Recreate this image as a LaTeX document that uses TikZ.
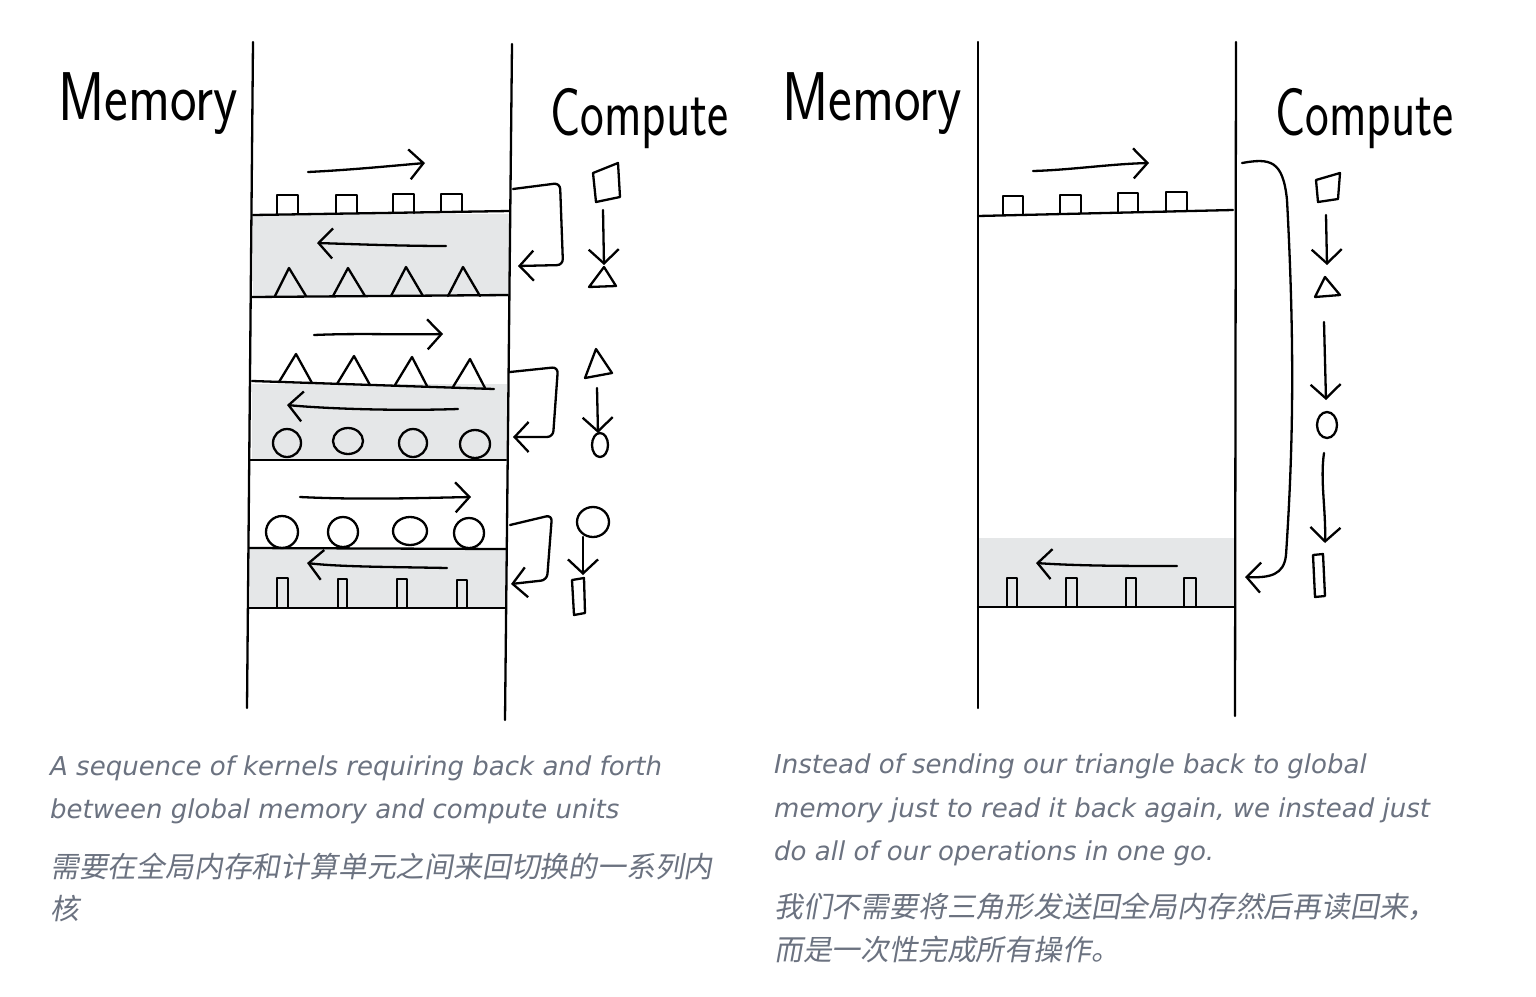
\documentclass[tikz,border=0pt]{standalone}
\usepackage{fontspec}
\usetikzlibrary{arrows.meta}
\newfontfamily\capfont{DejaVu Sans}
\newfontfamily\cjkfont[FakeSlant=0.18]{Noto Sans CJK SC}
\definecolor{capgray}{RGB}{107,114,128}
\definecolor{bandgray}{RGB}{229,231,232}
\tikzset{
  ink/.style={draw=black, line width=2.3pt, line cap=round, line join=round},
  arr/.style={ink, -{Straight Barb[length=14pt,width=30pt]}},
  hand/.style={inner sep=0pt, anchor=base west, font=\sffamily\fontsize{60}{60}\selectfont},
  captext/.style={inner sep=0pt, anchor=base west, text=capgray, font=\capfont\itshape\fontsize{26}{26}\selectfont},
  cjktext/.style={inner sep=0pt, anchor=base west, text=capgray, font=\cjkfont\fontsize{28.8}{28.8}\selectfont},
}
\begin{document}
\begin{tikzpicture}[x=1pt,y=-1pt]
\useasboundingbox (0,0) rectangle (1536,996);
\fill[white] (0,0) rectangle (1536,996);
% ---------------- left panel ----------------
\fill[bandgray] (253,214) rectangle (509,297);
\fill[bandgray] (252,384) rectangle (507,460);
\fill[bandgray] (250,548) rectangle (506,607);
\draw[ink] (253,42) -- (247,708);
\draw[ink] (512,44) -- (505,720);
\draw[ink] (253,215) -- (510,211);
\draw[ink] (252,297) -- (508,295);
\draw[ink] (252,381) -- (494,389);
\draw[ink] (250,460) -- (506,460);
\draw[ink] (249,548) -- (506,549);
\draw[ink] (249,608) -- (505,608);
% squares
\draw[ink] (277,214) -- (277,195) -- (298,195) -- (298,214);
\draw[ink] (336,214) -- (336,195) -- (357,195) -- (357,213);
\draw[ink] (393,213) -- (393,194) -- (414,194) -- (414,213);
\draw[ink] (441,212) -- (441,194) -- (462,194) -- (462,212);
% triangles row 1
\draw[ink] (275,296) -- (289,268) -- (306,296);
\draw[ink] (333,296) -- (348,268) -- (365,296);
\draw[ink] (391,296) -- (406,267) -- (423,296);
\draw[ink] (448,296) -- (463,267) -- (480,296);
% triangles row 2
\draw[ink] (279,382) -- (296,354) -- (312,383);
\draw[ink] (337,384) -- (354,356) -- (370,385);
\draw[ink] (395,385) -- (412,357) -- (427,386);
\draw[ink] (453,387) -- (470,359) -- (485,388);
% circles
\draw[ink] (287,443) ellipse [x radius=14, y radius=14];
\draw[ink] (348,441) ellipse [x radius=15, y radius=13];
\draw[ink] (413,443) ellipse [x radius=14, y radius=14];
\draw[ink] (475,444) ellipse [x radius=15, y radius=14];
\draw[ink] (282,532) ellipse [x radius=16, y radius=16];
\draw[ink] (343,532) ellipse [x radius=15, y radius=15];
\draw[ink] (410,531) ellipse [x radius=17, y radius=14];
\draw[ink] (469,533) ellipse [x radius=15, y radius=15];
% bars
\draw[ink] (277,607) -- (277,578) -- (288,578) -- (288,607);
\draw[ink] (338,607) -- (338,579) -- (347,579) -- (347,607);
\draw[ink] (397,607) -- (397,579) -- (407,579) -- (407,607);
\draw[ink] (457,607) -- (457,580) -- (467,580) -- (467,607);
% horizontal arrows
\draw[arr] (308,172) .. controls (350,170) and (390,166) .. (425,163);
\draw[arr] (446,246) .. controls (400,246) and (350,244) .. (317,243);
\draw[arr] (314,335) .. controls (360,333) and (400,335) .. (443,334);
\draw[arr] (458,409) .. controls (400,411) and (330,409) .. (287,405);
\draw[arr] (300,497) .. controls (360,500) and (420,498) .. (471,497);
\draw[arr] (447,568) .. controls (400,567) and (340,567) .. (307,563);
% hooks
\draw[arr, rounded corners=6pt] (513,189) -- (560,183) -- (563,265) -- (518,266);
\draw[arr, rounded corners=6pt] (510,372) -- (558,367) -- (553,437) -- (513,437);
\draw[arr, rounded corners=6pt] (510,525) -- (552,515) -- (547,580) -- (511,584);
% compute shapes left
\draw[ink] (593,173) -- (618,163) -- (620,197) -- (596,202) -- cycle;
\draw[arr] (603,210) -- (604,265);
\draw[ink] (604,267) -- (589,287) -- (616,286) -- cycle;
\draw[ink] (596,349) -- (585,378) -- (612,373) -- cycle;
\draw[arr] (597,388) -- (598,433);
\draw[ink] (600,445) ellipse [x radius=8, y radius=12];
\draw[ink] (593,522) ellipse [x radius=16, y radius=15];
\draw[arr] (583,537) -- (583,575);
\draw[ink] (572,580) -- (584,578) -- (585,613) -- (574,615) -- cycle;
% labels
\node[hand] (memL) at (58,120) {\scalebox{0.94}[1.15]{Memory}};
\node[hand] (cmpL) at (550,135) {\scalebox{0.84}[1.13]{Compute}};
% ---------------- right panel ----------------
\fill[bandgray] (978,538) rectangle (1235,607);
\draw[ink] (978,42) -- (978,708);
\draw[ink] (1236,42) -- (1235,716);
\draw[ink] (978,216) -- (1233,210);
\draw[ink] (978,607) -- (1235,607);
\draw[ink] (1003,215) -- (1003,196) -- (1023,196) -- (1023,214);
\draw[ink] (1060,214) -- (1060,195) -- (1081,195) -- (1081,213);
\draw[ink] (1118,213) -- (1118,193) -- (1138,193) -- (1138,212);
\draw[ink] (1166,212) -- (1166,192) -- (1187,192) -- (1187,211);
\draw[arr] (1033,171) .. controls (1070,170) and (1110,164) .. (1149,163);
\draw[arr] (1177,566) .. controls (1130,566) and (1080,566) .. (1036,563);
\draw[ink] (1007,607) -- (1007,578) -- (1017,578) -- (1017,607);
\draw[ink] (1066,607) -- (1066,578) -- (1077,578) -- (1077,607);
\draw[ink] (1126,607) -- (1126,578) -- (1136,578) -- (1136,607);
\draw[ink] (1184,607) -- (1184,578) -- (1196,578) -- (1196,607);
\draw[arr] (1242,163) .. controls (1270,158) and (1283,160) .. (1287,200)
  .. controls (1295,350) and (1293,450) .. (1286,555)
  .. controls (1284,575) and (1270,578) .. (1245,577);
\draw[ink] (1316,180) -- (1340,173) -- (1338,199) -- (1318,202) -- cycle;
\draw[arr] (1326,215) -- (1327,265);
\draw[ink] (1325,277) -- (1315,297) -- (1340,295) -- cycle;
\draw[arr] (1324,322) -- (1326,400);
\draw[ink] (1327,425) ellipse [x radius=10, y radius=13];
\draw[arr] (1324,453) .. controls (1320,480) and (1326,510) .. (1325,543);
\draw[ink] (1313,555) -- (1323,554) -- (1325,596) -- (1315,597) -- cycle;
\node[hand] (memR) at (782,120) {\scalebox{0.94}[1.15]{Memory}};
\node[hand] (cmpR) at (1275,135) {\scalebox{0.84}[1.13]{Compute}};
% ---------------- captions ----------------
\node[captext] (capL1) at (50,775) {A sequence of kernels requiring back and forth};
\node[captext] (capL2) at (50,818) {between global memory and compute units};
\node[cjktext] (cjkL1) at (50,877) {需要在全局内存和计算单元之间来回切换的一系列内};
\node[cjktext] (cjkL2) at (50,919) {核};
\node[captext] (capR1) at (774,773) {Instead of sending our triangle back to global};
\node[captext] (capR2) at (774,817) {memory just to read it back again, we instead just};
\node[captext] (capR3) at (774,860) {do all of our operations in one go.};
\node[cjktext] (cjkR1) at (774,917) {我们不需要将三角形发送回全局内存然后再读回来，};
\node[cjktext] (cjkR2) at (774,960) {而是一次性完成所有操作。};
\end{tikzpicture}
\end{document}
